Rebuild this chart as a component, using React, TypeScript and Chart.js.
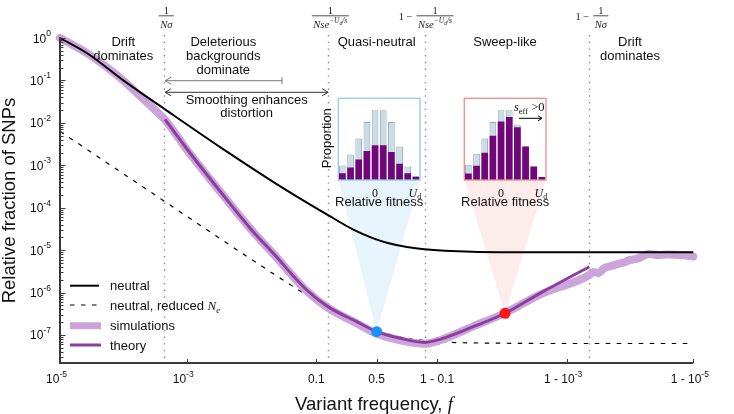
import React, { useEffect, useRef } from "react";
import { Chart, registerables } from "chart.js";

Chart.register(...registerables);

// ---------- Site frequency spectra: variant frequency f -> relative fraction of SNPs ----------
const neutralF = [1e-5, 2.8e-5, 1e-4, 4.5e-4, 3.6e-3, 0.02, 0.05, 0.15, 0.3, 0.47, 0.6, 0.75, 0.85, 0.97, 0.997, 0.9999, 0.99999];
const neutralY = [1.0, 0.42, 0.1, 0.021, 0.0025, 4.6e-4, 1.9e-4, 6.5e-5, 3.05e-5, 1.9e-5, 1.48e-5, 1.19e-5, 1.05e-5, 9.2e-6, 8.9e-6, 8.9e-6, 8.9e-6];

const reducedF = [1e-5, 1e-4, 1e-3, 0.01, 0.05, 0.1, 0.2, 0.35, 0.5, 0.7, 0.9, 0.99, 0.999, 0.99999];
const reducedY = [6.3e-3, 6.3e-4, 6.3e-5, 6.3e-6, 1.27e-6, 6.3e-7, 3.2e-7, 1.8e-7, 1.27e-7, 9.0e-8, 7.0e-8, 6.4e-8, 6.3e-8, 6.3e-8];

const simF = [1e-5, 2.8e-5, 1e-4, 1.53e-4, 3.16e-4, 4.55e-4, 1.06e-3, 3.56e-3, 0.0105, 0.0228, 0.0728, 0.147, 0.326, 0.5, 0.7, 0.853, 0.909, 0.971, 0.9907, 0.99737, 0.999564, 0.99962, 0.999684, 0.999749, 0.9998, 0.999842, 0.999874, 0.9999, 0.999921, 0.999937, 0.99995, 0.999965, 0.999975, 0.999984, 0.99999];
const simY = [1.0, 0.42, 0.1, 0.055, 0.0201, 0.0117, 2.1e-3, 2.15e-4, 2.95e-5, 8.2e-6, 1.1e-6, 4.3e-7, 1.9e-7, 1.08e-7, 7.5e-8, 6.2e-8, 7.5e-8, 1.6e-7, 3.3e-7, 9.0e-7, 2.6e-6, 3.05e-6, 2.9e-6, 3.8e-6, 4.2e-6, 4.7e-6, 5.1e-6, 5.9e-6, 6.2e-6, 7.2e-6, 8.1e-6, 7.7e-6, 7.9e-6, 7.7e-6, 7.1e-6];

const theoryF = [4.55e-4, 1.06e-3, 3.56e-3, 0.0105, 0.0228, 0.0728, 0.147, 0.326, 0.5, 0.7, 0.853, 0.909, 0.971, 0.9907, 0.99737, 0.999562];
const theoryY = [0.0121, 2.2e-3, 2.19e-4, 2.99e-5, 8.4e-6, 1.15e-6, 4.6e-7, 2.06e-7, 1.2e-7, 8.4e-8, 6.7e-8, 7.9e-8, 1.57e-7, 3.25e-7, 9.6e-7, 4.07e-6];

// highlighted frequencies (quasi-neutral and sweep-like examples)
const markerF = [0.5, 0.9907];
const markerY = [1.2e-7, 3.25e-7];

// regime boundaries: 1/Nσ, 1/(Ns e^{-Ud/s}) and their mirror images
const boundaryF = [4.4e-4, 0.1466, 0.8534, 0.99956];
const deleteriousEndF = 0.031;

const xTickF = [1e-5, 1e-3, 0.1, 0.5, 0.9, 0.999, 0.99999];
const xTickBase = ["10", "10", "0.1", "0.5", "1 - 0.1", "1 - 10", "1 - 10"];
const xTickExp = ["-5", "-3", "", "", "", "-3", "-5"];
const yTickExp = [0, -1, -2, -3, -4, -5, -6, -7];

// fitness distributions in the two insets (relative fitness bins, 0 at index 4, U_d at index 9)
const fitnessBins = [-4, -3, -2, -1, 0, 1, 2, 3, 4, 5];
const blueTotal = [20.9, 36.6, 59.6, 83, 100, 100, 83, 47.9, 19.5, 5.9];
const blueSub = [9.8, 18, 29.3, 41.4, 49.8, 49.8, 40, 23.4, 9.8, 4.4];
const redTotal = [22, 37.6, 59.6, 83, 100, 100, 79.5, 47.9, 19.5, 4.4];
const redSub = [9.2, 20.5, 39.1, 63.4, 83.9, 90.3, 75.7, 47.9, 19.5, 4.4];

// ---------- styling ----------
const SANS = "'Liberation Sans', Arial, Helvetica, sans-serif";
const SERIF = "'Liberation Serif', 'Times New Roman', serif";
const AXIS_COLOR = "#3a3a3a";
const SIM_COLOR = "rgb(203,165,218)";
const THEORY_COLOR = "rgb(140,62,158)";
const MARKER_COLORS = ["#1f8fff", "#ff1616"];
const CONE_COLORS = ["#e8f4fb", "#fdecec"];
const BOX_COLORS = ["#8fcbef", "#ef8c8c"];
const SUB_COLOR = "rgb(112,6,122)";
const TOTAL_COLOR = "rgb(202,221,231)";
const TOTAL_EDGE = "rgb(150,170,184)";

const INSET_SIZE = 81.7;
const INSET_POS = [
  { left: 338.3, top: 98.3 },
  { left: 464.3, top: 98.3 },
];
const INSET_PAD = { left: 22.3, top: 2.3, right: 6, bottom: 28 };
const INSET_W = INSET_PAD.left + INSET_SIZE + INSET_PAD.right;
const INSET_H = INSET_PAD.top + INSET_SIZE + INSET_PAD.bottom;

const logit = (f: number) => Math.log10(f / (1 - f));
const toPoints = (fs: number[], ys: number[]) => fs.map((f, i) => ({ x: logit(f), y: ys[i] }));

type Run = { t: string; font: string; dy?: number; dx?: number };

function runsWidth(ctx: CanvasRenderingContext2D, runs: Run[]) {
  let w = 0;
  for (const r of runs) {
    ctx.font = r.font;
    w += ctx.measureText(r.t).width + (r.dx || 0);
  }
  return w;
}

function drawRuns(ctx: CanvasRenderingContext2D, runs: Run[], x: number, y: number, align: "left" | "center" | "right" = "left") {
  const w = runsWidth(ctx, runs);
  let cx = align === "left" ? x : align === "center" ? x - w / 2 : x - w;
  ctx.textAlign = "left";
  ctx.textBaseline = "alphabetic";
  for (const r of runs) {
    ctx.font = r.font;
    cx += r.dx || 0;
    ctx.fillText(r.t, cx, y + (r.dy || 0));
    cx += ctx.measureText(r.t).width;
  }
  return w;
}

function chevron(ctx: CanvasRenderingContext2D, x: number, y: number, dir: number) {
  ctx.beginPath();
  ctx.moveTo(x - dir * 6, y - 3.5);
  ctx.lineTo(x, y);
  ctx.lineTo(x - dir * 6, y + 3.5);
  ctx.stroke();
}

function fraction(ctx: CanvasRenderingContext2D, cx: number, den: Run[], prefix: boolean) {
  const mf = `10.5px ${SERIF}`;
  const w = runsWidth(ctx, den) + 3;
  drawRuns(ctx, [{ t: "1", font: mf }], cx, 13.5, "center");
  ctx.lineWidth = 0.8;
  ctx.strokeStyle = "#222";
  ctx.beginPath();
  ctx.moveTo(cx - w / 2, 15.8);
  ctx.lineTo(cx + w / 2, 15.8);
  ctx.stroke();
  drawRuns(ctx, den, cx, 27.5, "center");
  if (prefix) drawRuns(ctx, [{ t: "1 \u2212", font: mf }], cx - w / 2 - 4, 19.5, "right");
}

const nSigma = (): Run[] => [{ t: "N\u03c3", font: `italic 10.5px ${SERIF}` }];
const nse = (): Run[] => [
  { t: "Nse", font: `italic 10.5px ${SERIF}` },
  { t: "\u2212U", font: `italic 7.5px ${SERIF}`, dy: -4.5 },
  { t: "d", font: `italic 5.5px ${SERIF}`, dy: -3 },
  { t: "/s", font: `italic 7.5px ${SERIF}`, dy: -4.5 },
];

const decorPlugin = {
  id: "sfsDecor",
  beforeDatasetsDraw(chart: any) {
    const { ctx, chartArea: a, scales } = chart;
    const xs = scales.x;
    const ys = scales.y;
    ctx.save();
    // cones linking the highlighted points to their insets
    markerF.forEach((f, i) => {
      const px = xs.getPixelForValue(logit(f));
      const py = ys.getPixelForValue(markerY[i]);
      const b = INSET_POS[i];
      ctx.fillStyle = CONE_COLORS[i];
      ctx.beginPath();
      ctx.moveTo(px, py);
      ctx.lineTo(b.left, b.top + INSET_SIZE);
      ctx.lineTo(b.left + INSET_SIZE, b.top + INSET_SIZE);
      ctx.closePath();
      ctx.fill();
    });
    // regime boundaries
    ctx.strokeStyle = "#8c8c8c";
    ctx.lineWidth = 1.4;
    ctx.setLineDash([1.4, 5.3]);
    boundaryF.forEach((f) => {
      const px = Math.round(xs.getPixelForValue(logit(f))) + 0.5;
      ctx.beginPath();
      ctx.moveTo(px, 35);
      ctx.lineTo(px, a.bottom);
      ctx.stroke();
    });
    ctx.restore();
  },
  afterDatasetsDraw(chart: any) {
    const { ctx, chartArea: a, scales } = chart;
    const xs = scales.x;
    const ys = scales.y;
    ctx.save();
    ctx.fillStyle = "#111";

    // axes
    ctx.strokeStyle = AXIS_COLOR;
    ctx.lineWidth = 2;
    ctx.beginPath();
    ctx.moveTo(a.left, a.top - 1);
    ctx.lineTo(a.left, a.bottom);
    ctx.lineTo(a.right, a.bottom);
    ctx.stroke();

    // y ticks (decades and log minor ticks)
    ctx.lineWidth = 1;
    const yMin = ys.min;
    for (let e = -8; e <= 0; e++) {
      for (let k = 1; k <= 9; k++) {
        const v = k * Math.pow(10, e);
        if (v < yMin || v > 1.0001) continue;
        const py = Math.round(ys.getPixelForValue(v)) + 0.5;
        ctx.beginPath();
        ctx.moveTo(a.left, py);
        ctx.lineTo(a.left + (k === 1 ? 5.5 : 3.5), py);
        ctx.stroke();
      }
    }
    // y tick labels
    yTickExp.forEach((e) => {
      const py = ys.getPixelForValue(Math.pow(10, e));
      drawRuns(ctx, [
        { t: "10", font: `12px ${SANS}` },
        { t: String(e), font: `8.5px ${SANS}`, dy: -6.5 },
      ], 51, py + 4.5, "right");
    });

    // x ticks and labels
    xTickF.forEach((f, i) => {
      const px = xs.getPixelForValue(logit(f));
      ctx.beginPath();
      ctx.moveTo(Math.round(px) + 0.5, a.bottom);
      ctx.lineTo(Math.round(px) + 0.5, a.bottom - 4);
      ctx.stroke();
      const runs: Run[] = [{ t: xTickBase[i], font: `12px ${SANS}` }];
      if (xTickExp[i]) runs.push({ t: xTickExp[i], font: `8.5px ${SANS}`, dy: -5.5 });
      drawRuns(ctx, runs, px - (xTickExp[i] ? 3.5 : 0), a.bottom + 19.5, "center");
    });

    // axis titles
    drawRuns(ctx, [
      { t: "Variant frequency, ", font: `18.5px ${SANS}` },
      { t: "f", font: `italic 19px ${SERIF}` },
    ], 374, 410, "center");
    ctx.save();
    ctx.translate(14.5, (a.top + a.bottom) / 2);
    ctx.rotate(-Math.PI / 2);
    ctx.font = `18.5px ${SANS}`;
    ctx.textAlign = "center";
    ctx.textBaseline = "alphabetic";
    ctx.fillText("Relative fraction of SNPs", 0, 0);
    ctx.restore();

    // regime labels
    ctx.font = `13px ${SANS}`;
    ctx.textAlign = "center";
    ctx.textBaseline = "middle";
    const lab = (lines: string[], x: number) => lines.forEach((s, i) => ctx.fillText(s, x, 42.7 + 14 * i));
    lab(["Drift", "dominates"], 123.3);
    lab(["Deleterious", "backgrounds", "dominate"], 223.3);
    lab(["Quasi-neutral"], 376.7);
    lab(["Sweep-like"], 505);
    lab(["Drift", "dominates"], 630);
    ctx.fillText("Smoothing enhances", 246.7, 100.7);
    ctx.fillText("distortion", 246.7, 113.3);

    // boundary formulas
    ctx.fillStyle = "#222";
    fraction(ctx, 166.3, nSigma(), false);
    fraction(ctx, 330.3, nse(), false);
    fraction(ctx, 435, nse(), true);
    fraction(ctx, 600.8, nSigma(), true);

    // arrows
    const xb0 = xs.getPixelForValue(logit(boundaryF[0])) + 1;
    const xb1 = xs.getPixelForValue(logit(boundaryF[1]));
    const xd = xs.getPixelForValue(logit(deleteriousEndF));
    ctx.lineWidth = 1;
    ctx.strokeStyle = "#777";
    ctx.beginPath();
    ctx.moveTo(xb0, 80.7);
    ctx.lineTo(xd, 80.7);
    ctx.moveTo(xd, 77.2);
    ctx.lineTo(xd, 84.2);
    ctx.stroke();
    chevron(ctx, xb0, 80.7, -1);
    ctx.strokeStyle = "#333";
    ctx.beginPath();
    ctx.moveTo(xb0, 92.3);
    ctx.lineTo(xb1, 92.3);
    ctx.stroke();
    chevron(ctx, xb0, 92.3, -1);
    chevron(ctx, xb1, 92.3, 1);

    // legend
    const legendY = [285.7, 305, 325.7, 345];
    const sx0 = 70, sx1 = 99, tx = 110;
    ctx.lineCap = "butt";
    ctx.strokeStyle = "#000";
    ctx.lineWidth = 2;
    ctx.beginPath(); ctx.moveTo(sx0, legendY[0]); ctx.lineTo(sx1, legendY[0]); ctx.stroke();
    ctx.lineWidth = 1.2;
    ctx.setLineDash([4.5, 6.5]);
    ctx.beginPath(); ctx.moveTo(sx0, legendY[1]); ctx.lineTo(sx1 + 2, legendY[1]); ctx.stroke();
    ctx.setLineDash([]);
    ctx.strokeStyle = SIM_COLOR;
    ctx.lineWidth = 7;
    ctx.beginPath(); ctx.moveTo(sx0, legendY[2]); ctx.lineTo(sx1 + 2, legendY[2]); ctx.stroke();
    ctx.strokeStyle = THEORY_COLOR;
    ctx.lineWidth = 3;
    ctx.beginPath(); ctx.moveTo(sx0, legendY[3]); ctx.lineTo(sx1 + 2, legendY[3]); ctx.stroke();
    ctx.fillStyle = "#111";
    const lf = `13px ${SANS}`;
    drawRuns(ctx, [{ t: "neutral", font: lf }], tx, legendY[0] + 4.5);
    drawRuns(ctx, [
      { t: "neutral, reduced ", font: lf },
      { t: "N", font: `italic 13px ${SERIF}` },
      { t: "e", font: `italic 9px ${SERIF}`, dy: 3 },
    ], tx, legendY[1] + 4.5);
    drawRuns(ctx, [{ t: "simulations", font: lf }], tx, legendY[2] + 4.5);
    drawRuns(ctx, [{ t: "theory", font: lf }], tx, legendY[3] + 4.5);
    ctx.restore();
  },
};

function mainConfig(): any {
  const common = { pointRadius: 0, fill: false, clip: false as any, cubicInterpolationMode: "monotone" as const };
  return {
    type: "line",
    data: {
      datasets: [
        {
          label: "highlighted",
          data: toPoints(markerF, markerY),
          showLine: false,
          pointRadius: 5.5,
          pointBackgroundColor: MARKER_COLORS,
          pointBorderColor: MARKER_COLORS,
          pointBorderWidth: 0,
          clip: false,
          order: 0,
        },
        { label: "theory", data: toPoints(theoryF, theoryY), borderColor: THEORY_COLOR, borderWidth: 3, order: 1, ...common },
        { label: "neutral", data: toPoints(neutralF, neutralY), borderColor: "#000", borderWidth: 2, order: 2, ...common },
        {
          label: "simulations",
          data: toPoints(simF, simY),
          borderColor: SIM_COLOR,
          borderWidth: 8,
          borderJoinStyle: "round",
          borderCapStyle: "round",
          order: 3,
          ...common,
        },
        {
          label: "neutral, reduced Ne",
          data: toPoints(reducedF, reducedY),
          borderColor: "#000",
          borderWidth: 1.2,
          borderDash: [4.5, 6.5],
          order: 4,
          ...common,
        },
      ],
    },
    options: {
      responsive: false,
      animation: false,
      devicePixelRatio: 1,
      events: [],
      layout: { padding: { left: 60, right: 40.7, top: 38, bottom: 51 } },
      scales: {
        x: { type: "linear", min: -5, max: 5, display: false },
        y: { type: "logarithmic", min: Math.pow(10, -7.66), max: 1, display: false },
      },
      plugins: { legend: { display: false }, tooltip: { enabled: false } },
    },
    plugins: [decorPlugin],
  };
}

function insetDecor(i: number) {
  return {
    id: "insetDecor" + i,
    beforeDatasetsDraw(chart: any) {
      const { ctx, chartArea: a } = chart;
      ctx.save();
      ctx.fillStyle = "#fff";
      ctx.fillRect(a.left, a.top, a.right - a.left, a.bottom - a.top);
      ctx.restore();
    },
    afterDatasetsDraw(chart: any) {
      const { ctx, chartArea: a, scales } = chart;
      const xs = scales.x;
      ctx.save();
      ctx.strokeStyle = BOX_COLORS[i];
      ctx.lineWidth = 1.3;
      ctx.strokeRect(a.left, a.top, a.right - a.left, a.bottom - a.top);

      ctx.fillStyle = "#111";
      const zeroX = xs.getPixelForValue(fitnessBins.indexOf(0));
      const udX = xs.getPixelForValue(fitnessBins.length - 1);
      drawRuns(ctx, [{ t: "0", font: `12px ${SERIF}` }], zeroX, a.bottom + 16.5, "center");
      drawRuns(ctx, [
        { t: "U", font: `italic 12px ${SERIF}` },
        { t: "d", font: `8px ${SERIF}`, dy: 2.5 },
      ], udX - 1, a.bottom + 16.5, "center");
      ctx.font = `13px ${SANS}`;
      ctx.textAlign = "center";
      ctx.textBaseline = "middle";
      ctx.fillText("Relative fitness", (a.left + a.right) / 2, a.bottom + 22);

      if (i === 0) {
        ctx.save();
        ctx.translate(a.left - 7.8, (a.top + a.bottom) / 2 - 1);
        ctx.rotate(-Math.PI / 2);
        ctx.font = `13px ${SANS}`;
        ctx.textAlign = "center";
        ctx.textBaseline = "alphabetic";
        ctx.fillText("Proportion", 0, 0);
        ctx.restore();
      } else {
        drawRuns(ctx, [
          { t: "s", font: `italic 12.5px ${SERIF}` },
          { t: "eff", font: `8.5px ${SERIF}`, dy: 3 },
          { t: " >0", font: `12.5px ${SERIF}` },
        ], a.right - 1.5, a.top + 12.5, "right");
        ctx.strokeStyle = "#000";
        ctx.lineWidth = 1;
        const ay = a.top + 20;
        ctx.beginPath();
        ctx.moveTo(a.right - 27, ay);
        ctx.lineTo(a.right - 4, ay);
        ctx.stroke();
        ctx.beginPath();
        ctx.moveTo(a.right - 8, ay - 2.5);
        ctx.lineTo(a.right - 4, ay);
        ctx.lineTo(a.right - 8, ay + 2.5);
        ctx.stroke();
      }
      ctx.restore();
    },
  };
}

function insetConfig(i: number): any {
  const total = i === 0 ? blueTotal : redTotal;
  const sub = i === 0 ? blueSub : redSub;
  const bar = { grouped: false, barPercentage: 0.82, categoryPercentage: 1 };
  return {
    type: "bar",
    data: {
      labels: fitnessBins,
      datasets: [
        { label: "subset", data: sub, backgroundColor: SUB_COLOR, borderWidth: 0, order: 0, ...bar },
        { label: "all", data: total, backgroundColor: TOTAL_COLOR, borderColor: TOTAL_EDGE, borderWidth: 1, order: 1, ...bar },
      ],
    },
    options: {
      responsive: false,
      animation: false,
      devicePixelRatio: 1,
      events: [],
      layout: { padding: INSET_PAD },
      scales: {
        x: { display: false },
        y: { display: false, min: 0, max: 117 },
      },
      plugins: { legend: { display: false }, tooltip: { enabled: false } },
    },
    plugins: [insetDecor(i)],
  };
}

export default function App() {
  const mainRef = useRef<HTMLCanvasElement>(null);
  const blueRef = useRef<HTMLCanvasElement>(null);
  const redRef = useRef<HTMLCanvasElement>(null);

  useEffect(() => {
    const charts: Chart[] = [];
    if (mainRef.current) charts.push(new Chart(mainRef.current, mainConfig()));
    if (blueRef.current) charts.push(new Chart(blueRef.current, insetConfig(0)));
    if (redRef.current) charts.push(new Chart(redRef.current, insetConfig(1)));
    return () => charts.forEach((c) => c.destroy());
  }, []);

  const insetStyle = (i: number): React.CSSProperties => ({
    position: "absolute",
    left: INSET_POS[i].left - INSET_PAD.left,
    top: INSET_POS[i].top - INSET_PAD.top,
    width: INSET_W,
    height: INSET_H,
  });

  return (
    <div style={{ position: "fixed", left: 0, top: 0, width: 734, height: 414, background: "#fff", overflow: "hidden" }}>
      <canvas ref={mainRef} width={734} height={414} style={{ position: "absolute", left: 0, top: 0, width: 734, height: 414 }} />
      <canvas ref={blueRef} width={INSET_W} height={INSET_H} style={insetStyle(0)} />
      <canvas ref={redRef} width={INSET_W} height={INSET_H} style={insetStyle(1)} />
    </div>
  );
}
